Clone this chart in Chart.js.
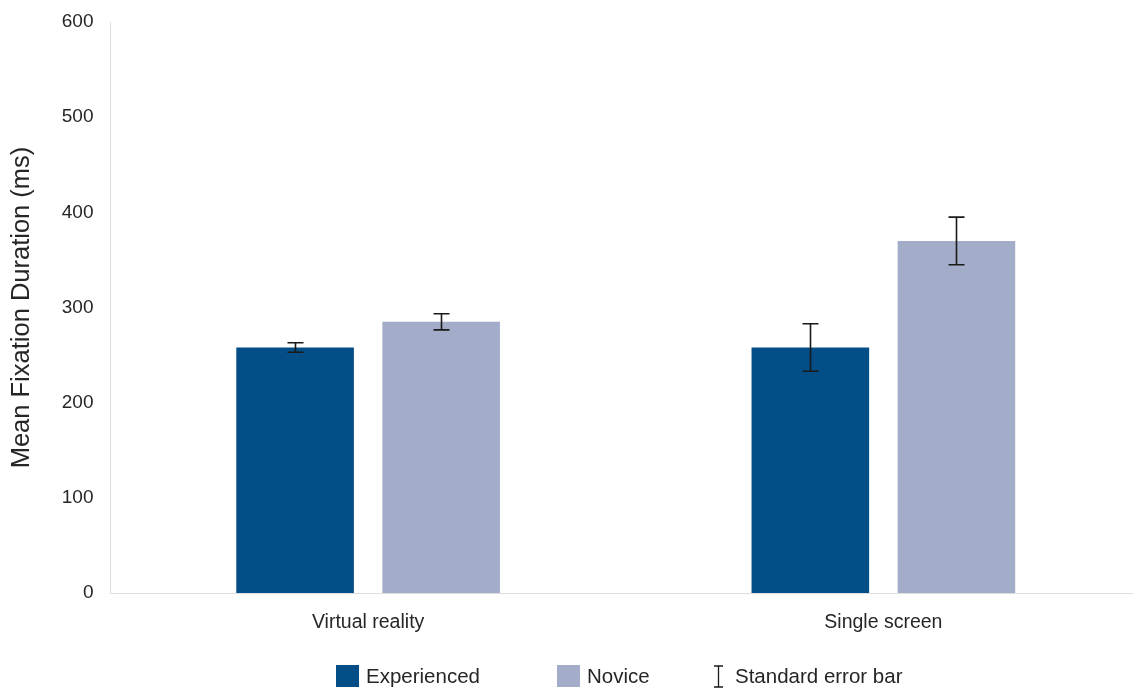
<!DOCTYPE html>
<html>
<head>
<meta charset="utf-8">
<script src="https://cdn.jsdelivr.net/npm/chart.js@4"></script>
<style>
  html, body { margin: 0; padding: 0; background: #fff; overflow: hidden; }
  #wrap { width: 1133px; height: 689px; position: relative; overflow: hidden; }
  #c { position: absolute; left: 0; top: 0; }
  #legend { position: absolute; top: 664px; left: 0; height: 24px; width: 1133px;
            font-family: 'Liberation Sans', Arial, sans-serif; font-size: 20.5px; color: #262626; }
  .item { position: absolute; top: 0; height: 24px; line-height: 24px; white-space: nowrap; }
  .box { position: absolute; top: 1px; width: 23px; height: 22px; }
  .lbl { position: absolute; top: 0; }
  .ibar { position: absolute; top: 1px; width: 11px; height: 23px; }
</style>
</head>
<body>
<div id="wrap"><canvas id="c" width="1141" height="689"></canvas><div id="legend"></div></div>
<script>
const categories = ["Virtual reality", "Single screen"];
const seriesNames = ["Experienced", "Novice"];
const experienced = [258, 258];
const novice = [285, 370];
const experiencedErr = [5, 25];
const noviceErr = [8.5, 25];
const yTicks = [0, 100, 200, 300, 400, 500, 600];
const errLegendLabel = "Standard error bar";
const seriesColors = ['#034E86', '#A3ADCA'];

const FONT = "'Liberation Sans', Arial, sans-serif";
const TEXT = "#262626";
const errors = [experiencedErr, noviceErr];

const errorBarPlugin = {
  id: 'errorBars',
  afterDatasetsDraw(chart) {
    const ctx = chart.ctx;
    const y = chart.scales.y;
    ctx.save();
    ctx.strokeStyle = '#1a1a1a';
    ctx.lineWidth = 1.6;
    chart.data.datasets.forEach((ds, di) => {
      const meta = chart.getDatasetMeta(di);
      meta.data.forEach((bar, i) => {
        const v = ds.data[i], e = errors[di][i];
        const x = Math.round(bar.x) + 0.5;
        const yt = y.getPixelForValue(v + e), yb = y.getPixelForValue(v - e);
        const cap = 8;
        ctx.beginPath();
        ctx.moveTo(x, yt); ctx.lineTo(x, yb);
        ctx.moveTo(x - cap, yt); ctx.lineTo(x + cap, yt);
        ctx.moveTo(x - cap, yb); ctx.lineTo(x + cap, yb);
        ctx.stroke();
      });
    });
    ctx.restore();
  }
};

const chart = new Chart(document.getElementById('c'), {
  type: 'bar',
  data: {
    labels: categories,
    datasets: [
      { label: seriesNames[0], data: experienced, backgroundColor: seriesColors[0],
        categoryPercentage: 0.567, barPercentage: 0.805 },
      { label: seriesNames[1], data: novice, backgroundColor: seriesColors[1],
        categoryPercentage: 0.567, barPercentage: 0.805 }
    ]
  },
  options: {
    responsive: false,
    animation: false,
    layout: { padding: { top: 22, right: 0, left: 0, bottom: 50 } },
    plugins: {
      tooltip: { enabled: false },
      legend: { display: false }
    },
    scales: {
      x: {
        grid: { display: false, drawTicks: false },
        border: { display: true, color: '#dedede', width: 1 },
        ticks: { font: { family: FONT, size: 19.5 }, color: TEXT, padding: 18 },
        afterFit(s) { s.height = 46; s.paddingLeft = 0; s.paddingRight = 0; }
      },
      y: {
        min: 0, max: 600,
        afterBuildTicks(s) { s.ticks = yTicks.map(v => ({ value: v })); },
        grid: { display: false, drawTicks: false },
        border: { display: true, color: '#dedede', width: 1 },
        ticks: { font: { family: FONT, size: 19 }, color: TEXT, padding: 17 },
        title: { display: true, text: 'Mean Fixation Duration (ms)', font: { family: FONT, size: 25.5 },
                 color: TEXT, padding: { top: 7, bottom: 0 } },
        afterFit(s) { s.width = 110.5; s.paddingTop = 0; s.paddingBottom = 0; }
      }
    }
  },
  plugins: [errorBarPlugin]
});

// HTML legend built from the dataset names/colours
const legend = document.getElementById('legend');
const legendItems = [
  { text: seriesNames[0], color: seriesColors[0], left: 336 },
  { text: seriesNames[1], color: seriesColors[1], left: 557 },
  { text: errLegendLabel, errbar: true, left: 713 }
];
legendItems.forEach(it => {
  const d = document.createElement('div');
  d.className = 'item';
  d.style.left = it.left + 'px';
  if (it.errbar) {
    d.innerHTML = '<svg class="ibar" viewBox="0 0 11 23" style="left:0"><path d="M5.5 1V22M1 1H10M1 22H10" stroke="#1a1a1a" stroke-width="1.3" fill="none"/></svg>' +
      '<span class="lbl" style="left:22px"></span>';
  } else {
    d.innerHTML = '<span class="box" style="left:0;background:' + it.color + '"></span><span class="lbl" style="left:30px"></span>';
  }
  d.querySelector('.lbl').textContent = it.text;
  legend.appendChild(d);
});
</script>
</body>
</html>
